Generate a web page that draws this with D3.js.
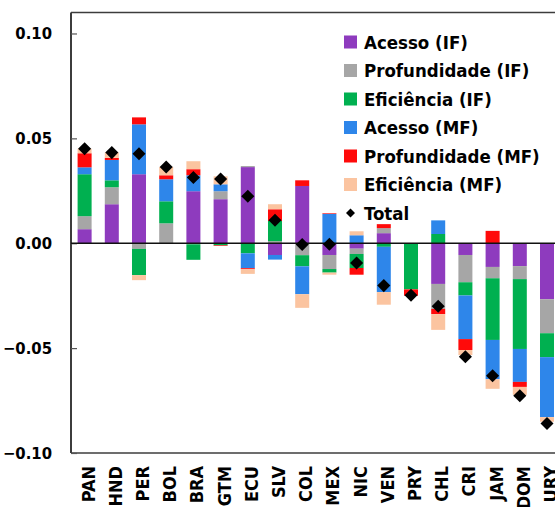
<!DOCTYPE html>
<html><head><meta charset="utf-8">
<script src="https://cdn.jsdelivr.net/npm/d3@7"></script>
<style>
html,body{margin:0;padding:0;background:#fff;}
svg{display:block;}
text{font-family:"DejaVu Sans";font-stretch:condensed;font-weight:bold;fill:#000;}
</style></head>
<body><svg id="c" width="555" height="507"></svg>
<script>
const categories = ["PAN","HND","PER","BOL","BRA","GTM","ECU","SLV","COL","MEX","NIC","VEN","PRY","CHL","CRI","JAM","DOM","URY"];
const seriesNames = ["Acesso (IF)","Profundidade (IF)","Eficiência (IF)","Acesso (MF)","Profundidade (MF)","Eficiência (MF)"];
const acessoIF       = [0.0067,0.0186,0.0329,0,0.0248,0.0210,0.0363,-0.0056,0.0273,-0.0056,-0.0026,0.0048,0,-0.0194,-0.0056,-0.0113,-0.0109,-0.0267];
const profundidadeIF = [0.0062,0.0081,-0.0027,0.0095,-0.0005,0.0038,0.0005,0.0010,-0.0057,-0.0067,-0.0025,0.0024,0,-0.0119,-0.0130,-0.0054,-0.0062,-0.0162];
const eficienciaIF   = [0.0200,0.0033,-0.0125,0.0105,-0.0074,-0.0010,-0.0048,0.0096,-0.0053,-0.0017,-0.0067,-0.0017,-0.0220,0.0044,-0.0063,-0.0294,-0.0333,-0.0114];
const acessoMF       = [0.0033,0.0097,0.0238,0.0105,0.0076,0.0033,-0.0071,-0.0022,-0.0133,0.0140,0.0038,-0.0216,0,0.0065,-0.0208,-0.0187,-0.0157,-0.0286];
const profundidadeMF = [0.0067,0.0010,0.0033,0.0019,0.0029,-0.0003,-0.0005,0.0056,0.0027,0.0003,-0.0032,0.0019,-0.0030,-0.0025,-0.0052,0.0059,-0.0024,0];
const eficienciaMF   = [0.0022,0.0026,-0.0024,0.0040,0.0038,0.0038,-0.0022,0.0024,-0.0065,-0.0010,0.0019,-0.0060,0,-0.0075,-0.0024,-0.0046,-0.0038,-0.0022];
const total          = [0.0450,0.0432,0.0427,0.0363,0.0313,0.0306,0.0224,0.0110,-0.0006,-0.0005,-0.0094,-0.0202,-0.0248,-0.0300,-0.0541,-0.0632,-0.0727,-0.0859];
const yTicks = [0.10,0.05,0.00,-0.05,-0.10];
const colors = ["#8E3BBE","#A6A6A6","#00B050","#2E86EA","#FF0A0A","#FBC4A0"];

(function(){
const seriesArrays = [acessoIF,profundidadeIF,eficienciaIF,acessoMF,profundidadeMF,eficienciaMF];
const rows = categories.map((c,i)=>{const r={cat:c}; seriesNames.forEach((s,j)=>r[s]=seriesArrays[j][i]); return r;});

const svg = d3.select("#c");
const pLeft = 71, pTop = 12.5, pBottom = 453, pRight = 71 + 18*27.2;
const x = d3.scaleBand().domain(categories).range([pLeft, pRight]).paddingInner(0.485).paddingOuter(0.2425);
const y = d3.scaleLinear().domain([-0.10, 0.11]).range([pBottom, pTop]);

const stacked = d3.stack().keys(seriesNames).offset(d3.stackOffsetDiverging)(rows);

svg.append("g").selectAll("g").data(stacked).join("g")
  .attr("fill",(d,i)=>colors[i])
  .selectAll("rect").data(d=>d).join("rect")
  .attr("x",d=>x(d.data.cat))
  .attr("width",x.bandwidth())
  .attr("y",d=>y(Math.max(d[0],d[1])))
  .attr("height",d=>Math.abs(y(d[0])-y(d[1])));

const axisColor = "#3c3c3c";
svg.append("line").attr("x1",pLeft).attr("x2",555).attr("y1",pTop).attr("y2",pTop).attr("stroke",axisColor).attr("stroke-width",1.5);
svg.append("line").attr("x1",pLeft).attr("x2",555).attr("y1",pBottom).attr("y2",pBottom).attr("stroke",axisColor).attr("stroke-width",1.5);

const yAxis = d3.axisRight(y).tickValues(yTicks).tickSize(6).tickFormat("");
const gy = svg.append("g").attr("transform",`translate(${pLeft},0)`).call(yAxis);
gy.select(".domain").attr("stroke",axisColor).attr("stroke-width",2).attr("d",`M0,${pTop}V${pBottom}`);
gy.selectAll(".tick line").attr("stroke","#555").attr("stroke-width",1.2);
svg.append("g").selectAll("text").data(yTicks).join("text")
  .attr("x",52).attr("y",d=>y(d)).attr("dy","0.36em").attr("text-anchor","end")
  .style("font-size","16.5px").text(d=>d3.format(".2f")(d));

svg.append("line").attr("x1",pLeft).attr("x2",555).attr("y1",y(0)).attr("y2",y(0)).attr("stroke","#111").attr("stroke-width",1.5);

svg.append("g").selectAll("text").data(categories).join("text")
  .attr("transform",d=>`translate(${x(d)+x.bandwidth()/2},466) rotate(-90)`)
  .attr("dy","10px").attr("text-anchor","end")
  .style("font-size","18px").text(d=>d);

svg.append("g").selectAll("path").data(categories).join("path")
  .attr("d",d3.symbol(d3.symbolSquare,85)())
  .attr("transform",(d,i)=>`translate(${x(d)+x.bandwidth()/2},${y(total[i])}) rotate(45)`)
  .attr("fill","#000");

const lg = svg.append("g");
const legendItems = seriesNames.concat(["Total"]);
legendItems.forEach((name,i)=>{
  const cy = 42 + i*28.5;
  if(i<6){
    lg.append("rect").attr("x",344).attr("y",cy-6.5).attr("width",13).attr("height",13).attr("fill",colors[i]);
  } else {
    lg.append("path").attr("d",d3.symbol(d3.symbolSquare,40)()).attr("transform",`translate(350.5,${cy}) rotate(45)`).attr("fill","#000");
  }
  lg.append("text").attr("x",364).attr("y",cy).attr("dy","0.36em").style("font-size","18.5px").text(name);
});
})();
</script></body></html>
